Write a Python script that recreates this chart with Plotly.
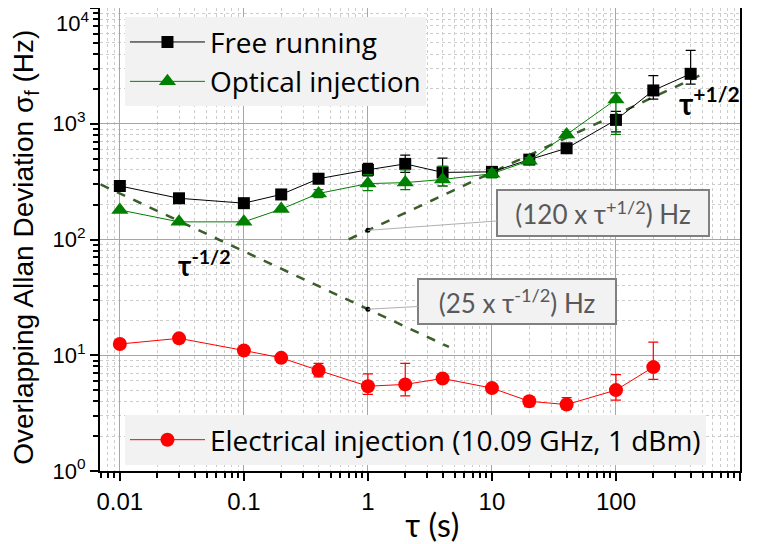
import numpy as np
import plotly.graph_objects as go

# tau values (s)
tau_free = [0.01, 0.03, 0.1, 0.2, 0.4, 1, 2, 4, 10, 20, 40, 100, 200, 400]
adev_free = [290, 227, 206, 245, 335, 400, 450, 380, 384, 490, 614, 1080, 1940, 2700]
err_free_up = [0, 0, 0, 0, 20, 55, 85, 125, 20, 30, 40, 200, 660, 1600]
err_free_dn = [0, 0, 0, 0, 20, 45, 70, 90, 20, 30, 40, 230, 310, 500]

tau_opt = [0.01, 0.03, 0.1, 0.2, 0.4, 1, 2, 4, 10, 20, 40, 100]
adev_opt = [180, 142, 142, 183, 250, 304, 310, 330, 370, 480, 807, 1620]
err_opt_up = [0, 0, 0, 0, 20, 60, 90, 100, 30, 30, 50, 230]
err_opt_dn = [0, 0, 0, 0, 20, 40, 40, 40, 30, 30, 50, 810]

tau_ele = [0.01, 0.03, 0.1, 0.2, 0.4, 1, 2, 4, 10, 20, 40, 100, 200]
adev_ele = [12.5, 14, 11, 9.5, 7.4, 5.4, 5.6, 6.3, 5.2, 4.0, 3.75, 5.0, 7.9]
err_ele_up = [0, 0, 0, 0, 1.1, 1.5, 2.9, 0, 0, 0.4, 0.55, 1.8, 5.1]
err_ele_dn = [0, 0, 0, 0, 0.9, 0.8, 1.15, 0, 0, 0.4, 0.35, 0.9, 1.7]

# fitted slopes
fit_minus_tau = np.array([0.007, 4.5])
fit_minus_coef = 25
fit_plus_tau = np.array([0.7, 500])
fit_plus_coef = 120

x_ticks = [0.01, 0.1, 1, 10, 100, 1000]
x_ticktext = ["0.01", "0.1", "1", "10", "100", "1000"]
y_ticks = [1, 10, 100, 1000, 10000]
# top label is drawn as an annotation so it is not clipped at the page edge
y_ticktext = ["10<sup>0</sup>", "10<sup>1</sup>", "10<sup>2</sup>", "10<sup>3</sup>", ""]
y_top_label = "10<sup>4</sup>"

GREEN = "#008000"
RED = "#ff0000"
FIT = "#3b5e2b"
LEG_FONT = dict(family="Open Sans", size=28, color="black")
TICK_FONT_Y = dict(family="Liberation Sans", size=22, color="black")


def errs(up, dn, color):
    return dict(type="data", symmetric=False, array=up, arrayminus=dn,
                color=color, thickness=1.2, width=5)


fig = go.Figure()

# fit lines
fig.add_trace(go.Scatter(x=fit_minus_tau, y=fit_minus_coef * fit_minus_tau ** -0.5, mode="lines",
                         line=dict(color=FIT, width=2.5, dash="dash"), showlegend=False, hoverinfo="skip"))
fig.add_trace(go.Scatter(x=fit_plus_tau, y=fit_plus_coef * fit_plus_tau ** 0.5, mode="lines",
                         line=dict(color=FIT, width=2.5, dash="dash"), showlegend=False, hoverinfo="skip"))
fig.add_trace(go.Scatter(x=[1, 1], y=[fit_plus_coef, fit_minus_coef], mode="markers",
                         marker=dict(color="black", size=5), showlegend=False, hoverinfo="skip"))

fig.add_trace(go.Scatter(x=tau_free, y=adev_free, mode="lines+markers", name="Free running",
                         line=dict(color="black", width=1),
                         marker=dict(symbol="square", size=12, color="black"),
                         error_y=errs(err_free_up, err_free_dn, "black"), legend="legend"))
fig.add_trace(go.Scatter(x=tau_opt, y=adev_opt, mode="lines+markers", name="Optical injection",
                         line=dict(color=GREEN, width=1),
                         marker=dict(symbol="triangle-up", size=15, color=GREEN),
                         error_y=errs(err_opt_up, err_opt_dn, GREEN), legend="legend"))
fig.add_trace(go.Scatter(x=tau_ele, y=adev_ele, mode="lines+markers",
                         name="Electrical injection (10.09 GHz, 1 dBm)",
                         line=dict(color=RED, width=1),
                         marker=dict(symbol="circle", size=14, color=RED),
                         error_y=errs(err_ele_up, err_ele_dn, RED), legend="legend2"))

axis_common = dict(type="log", showline=True, linewidth=2, linecolor="black", mirror=True,
                   ticks="outside", ticklen=8, tickwidth=2, tickcolor="black",
                   showgrid=True, gridcolor="#a6a6a6", gridwidth=1, zeroline=False, automargin=False,
                   minor=dict(dtick="D1", ticks="outside", ticklen=5, tickwidth=1.5, tickcolor="black",
                              showgrid=True, gridcolor="#cccccc", griddash="dot", gridwidth=1))

fig.update_xaxes(**axis_common, range=[-2.16, 3], tickvals=x_ticks, ticktext=x_ticktext,
                 tickfont=dict(family="Liberation Sans", size=24, color="black"),
                 title=dict(text="&nbsp;&nbsp;&nbsp;τ (s)", font=dict(family="Lato", size=32, color="black"),
                            standoff=2))
fig.update_yaxes(**axis_common, range=[0, 4], tickvals=y_ticks, ticktext=y_ticktext,
                 tickfont=TICK_FONT_Y,
                 title=dict(text="Overlapping Allan Deviation σ<sub>f</sub> (Hz)&nbsp;&nbsp;",
                            font=dict(family="Liberation Sans", size=28, color="black"), standoff=12))

fig.add_annotation(x=0, y=1, xref="paper", yref="paper", xanchor="right", yanchor="top",
                   xshift=-9, yshift=2, text=y_top_label, showarrow=False, font=TICK_FONT_Y)

fig.add_annotation(x=2.755, y=3.2, text="<b>τ<sup>+1/2</sup></b>", showarrow=False,
                   font=dict(family="Lato", size=30, color="black"))
fig.add_annotation(x=-1.317, y=1.79, text="<b>τ<sup>-1/2</sup></b>", showarrow=False,
                   font=dict(family="Lato", size=28, color="black"))

box = dict(showarrow=True, arrowhead=0, arrowcolor="#b0b0b0", arrowwidth=1,
           bordercolor="#808080", borderwidth=2, borderpad=6, bgcolor="#f2f2f2",
           font=dict(family="Lato", size=26, color="#595959"))
fig.add_annotation(x=0, y=np.log10(fit_plus_coef), text="(120 x τ<sup>+1/2</sup>) Hz",
                   ax=235, ay=-17, width=198, height=32, **box)
fig.add_annotation(x=0, y=np.log10(fit_minus_coef), text="(25 x τ<sup>-1/2</sup>) Hz",
                   ax=149, ay=-8, width=184, height=31, **box)

# page body adds an 8px offset, so the figure is drawn 8px smaller
fig.update_layout(
    width=758, height=536, margin=dict(l=92, r=26, t=0, b=73),
    paper_bgcolor="white", plot_bgcolor="white",
    legend=dict(x=0.039, y=0.98, xanchor="left", yanchor="top", bgcolor="#f2f2f2",
                font=LEG_FONT, itemwidth=75),
    legend2=dict(x=0.039, y=0.121, xanchor="left", yanchor="top", bgcolor="#f2f2f2",
                 font=LEG_FONT, itemwidth=75),
)

fig.write_html("out.html")
